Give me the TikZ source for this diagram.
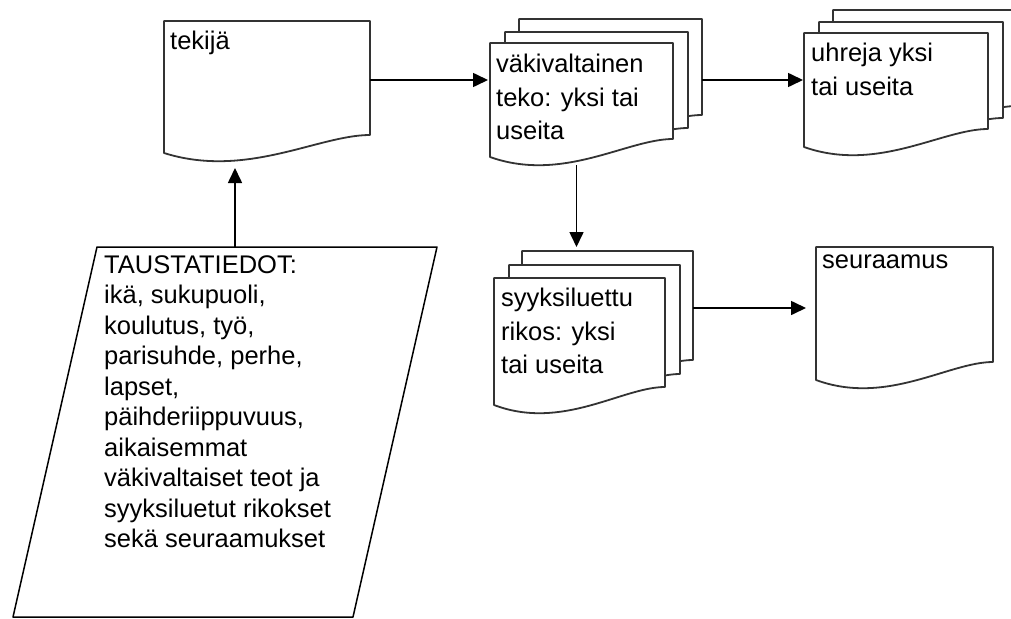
\documentclass[tikz,border=0pt]{standalone}
\usepackage{fontspec}
\setmainfont{Liberation Sans}
\usepackage{tikz}
\usetikzlibrary{arrows.meta, positioning}

\begin{document}
\begin{tikzpicture}[
  x=1pt, y=-1pt,
  docline/.style = {draw=black!80, line width=1.8pt, fill=white, line join=round},
  docbox/.style 2 args = {rectangle, anchor=north west, inner sep=0pt, outer sep=0pt,
    minimum width=#1pt, minimum height=#2pt,
    append after command={\pgfextra{\let\docnode\tikzlastnode
      \draw[docline] (\docnode.north west) -- (\docnode.north east)
        -- ([yshift=18pt]\docnode.south east)
        .. controls +(-0.25*#1,0) and +(0.4*#1,26) .. (\docnode.south west) -- cycle;}}},
  databox/.style = {rectangle, anchor=north west, inner sep=0pt, outer sep=0pt,
    minimum width=424pt, minimum height=370pt,
    append after command={\pgfextra{\let\datanode\tikzlastnode
      \draw[line width=1.5pt, line join=round] ([xshift=84pt]\datanode.north west) -- (\datanode.north east)
        -- ([xshift=-84pt]\datanode.south east) -- (\datanode.south west) -- cycle;}}},
  doctext/.style = {inner sep=0pt, align=left, font=\fontsize{25.5}{33.5}\selectfont},
  datatext/.style = {inner sep=0pt, align=left, font=\fontsize{25.5}{30.5}\selectfont},
  arrow/.style = {-{Triangle[length=15pt, width=14pt]}, line width=1.6pt}
]
\useasboundingbox (0,0) rectangle (1011,618);

\node[docbox={206}{132}] (tekija) at (164,21) {};
\node[doctext, below right=10pt and 6pt of tekija.north west] (tekijatext) {tekijä};

\node[docbox={183}{114}] (teko3) at (519,19) {};
\node[docbox={183}{114}] (teko2) at (505,32) {};
\node[docbox={183}{114}] (teko1) at (490,43) {};
\node[doctext, below right=11pt and 6pt of teko1.north west] (tekotext) {väkivaltainen\\teko: yksi tai\\useita};

\node[docbox={184}{114}] (uhri3) at (833,10) {};
\node[docbox={184}{114}] (uhri2) at (819,22) {};
\node[docbox={184}{114}] (uhri1) at (804,33) {};
\node[doctext, below right=10pt and 7pt of uhri1.north west] (uhritext) {uhreja yksi\\tai useita};

\node[docbox={171}{127}] (syy3) at (522,251) {};
\node[docbox={171}{127}] (syy2) at (509,265) {};
\node[docbox={171}{127}] (syy1) at (494,278) {};
\node[doctext, below right=10pt and 7pt of syy1.north west] (syytext) {syyksiluettu\\rikos: yksi\\tai useita};

\node[docbox={177}{133}] (seur) at (816,247) {};
\node[doctext, below right=8pt and 6pt of seur.north west] (seurtext) {seuraamus};

\node[databox] (tausta) at (13,247) {};
\node[datatext, below right=8pt and 91pt of tausta.north west] (taustatext) {TAUSTATIEDOT:\\ikä, sukupuoli,\\koulutus, työ,\\parisuhde, perhe,\\lapset,\\päihderiippuvuus,\\aikaisemmat\\väkivaltaiset teot ja\\syyksiluetut rikokset\\sekä seuraamukset};

\draw[arrow, shorten >=2pt] ([yshift=7pt]tekija.east) -- ([yshift=7pt]tekija.east -| teko1.west);
\draw[arrow, shorten >=1pt] ([yshift=-4pt]teko3.east) -- ([yshift=-4pt]teko3.east -| uhri1.west);
\draw[arrow, shorten >=4pt] ([xshift=-5pt, yshift=-8pt]teko1.south) -- ([xshift=-5pt]teko1.south |- syy3.north);
\draw[arrow, shorten >=10pt] ([yshift=6.5pt]syy3.east) -- ([yshift=6.5pt]syy3.east -| seur.west);
\draw[arrow] ([xshift=10pt]tausta.north) -- ([xshift=-32pt, yshift=-15pt]tekija.south);

\end{tikzpicture}
\end{document}
